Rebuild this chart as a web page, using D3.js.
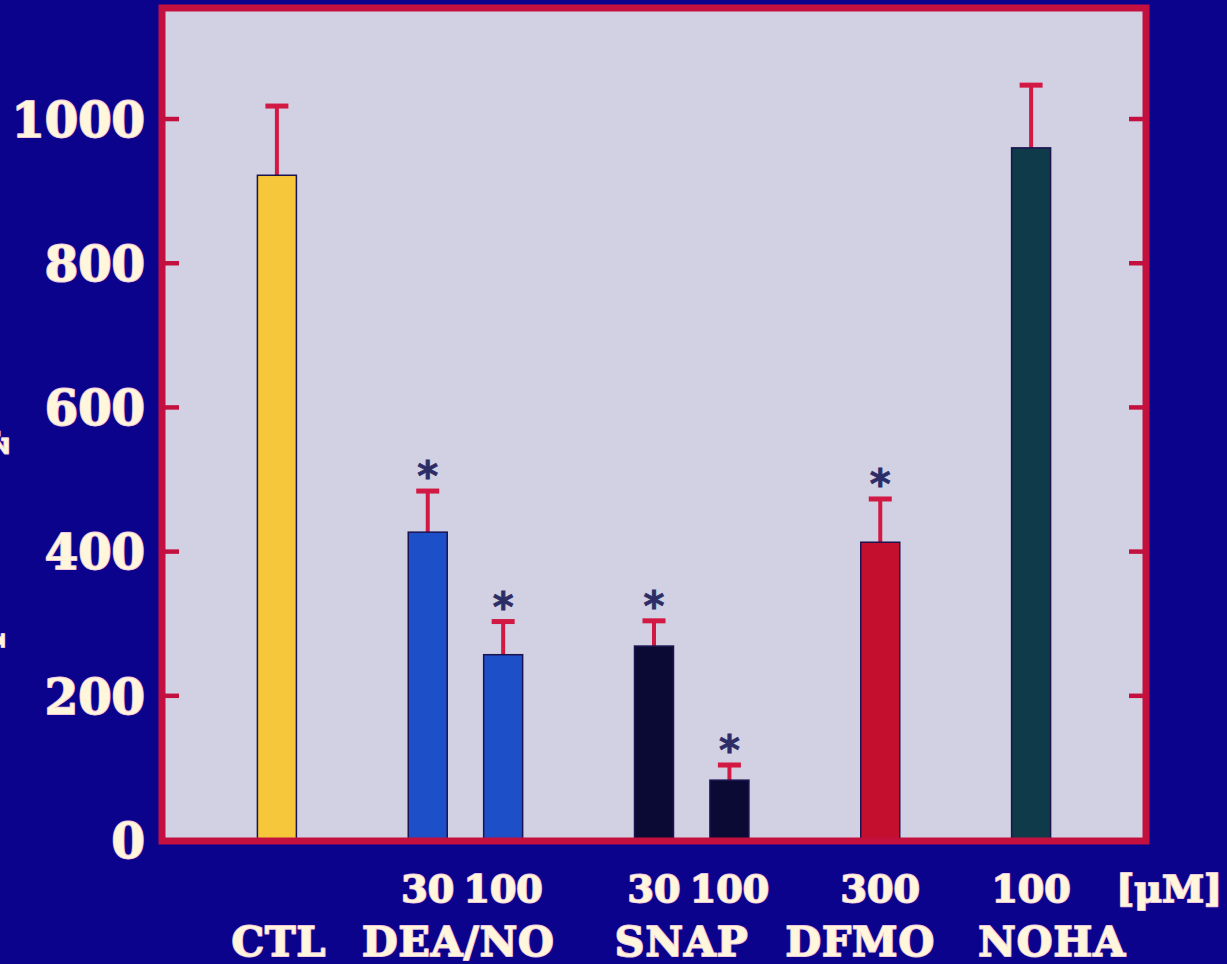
<!DOCTYPE html>
<html>
<head>
<meta charset="utf-8">
<script src="https://cdn.jsdelivr.net/npm/d3@7"></script>
<style>
  html, body { margin: 0; padding: 0; background: #0c038c; }
  svg { display: block; }
</style>
</head>
<body>
<svg id="chart" width="1227" height="964"></svg>
<script>
// Treatment groups, doses (µM) and the measured means with error (SEM)
const groups = ["CTL", "DEA/NO", "SNAP", "DFMO", "NOHA"];
const doses = [[""], ["30", "100"], ["30", "100"], ["300"], ["100"]];
const means = [[922], [427, 257], [269, 83], [413], [960]];
const errors = [[96], [57, 46], [35, 21], [60], [87]];
const significant = [[false], [true, true], [true, true], [true], [false]];
const groupColors = ["#f6c73a", "#1d4fc8", "#0a0a34", "#c4102e", "#0e3a4a"];
const yTicks = [0, 200, 400, 600, 800, 1000];
const unitLabel = "[\u03bcM]";
const yTitleLines = ["ODC activity", "pmol CO", "2", "/h"];

const W = 1227, H = 964;
const frame = { left: 162, right: 1146, top: 8, bottom: 841 };
const baseY = 840;
// Horizontal nudges that keep the long group names apart on the slide
const groupLabelNudge = { "CTL": 2, "DEA/NO": -7, "SNAP": -10, "DFMO": -20, "NOHA": 21 };

const svg = d3.select("#chart");

// One slot per bar, with an empty slot between consecutive groups
const slots = [];
groups.forEach((g, gi) => {
  doses[gi].forEach((d, di) => {
    slots.push({
      key: g + "|" + di, group: g, gi, dose: d,
      value: means[gi][di], err: errors[gi][di], sig: significant[gi][di],
      color: groupColors[gi]
    });
  });
  if (gi < groups.length - 1) slots.push({ key: "gap" + gi, gap: true });
});
const bars = slots.filter(s => !s.gap);

const x = d3.scaleBand()
  .domain(slots.map(s => s.key))
  .range([frame.left, frame.right])
  .paddingInner(0.483)
  .paddingOuter(1.265)
  .align(0.5);

const y = d3.scaleLinear()
  .domain([0, 1154])
  .range([baseY, frame.top]);

const textFill = "#fff6dc";
const labelStyle = sel => sel
  .attr("font-family", "DejaVu Serif")
  .attr("font-weight", "bold")
  .attr("fill", textFill)
  .attr("stroke", "#efc6dc")
  .attr("stroke-width", 2)
  .attr("stroke-linejoin", "round")
  .attr("paint-order", "stroke");

// Plot panel
svg.append("rect")
  .attr("x", frame.left).attr("y", frame.top)
  .attr("width", frame.right - frame.left)
  .attr("height", frame.bottom - frame.top)
  .attr("fill", "#d2d0e3");

// Rotated axis title, running off the left edge of the slide
const title = svg.append("text")
  .attr("transform", `translate(-4, 648) rotate(-90)`)
  .attr("font-size", 40)
  .call(labelStyle);
title.append("tspan")
  .attr("x", 0).attr("dy", -48)
  .text(yTitleLines[0]);
title.append("tspan")
  .attr("x", 0).attr("dy", 48)
  .text(yTitleLines[1]);
title.append("tspan")
  .attr("dy", 12).attr("font-size", 28)
  .text(yTitleLines[2]);
title.append("tspan")
  .attr("dy", -12)
  .text(yTitleLines[3]);

// Error bars (upper whisker only)
const errColor = "#d21944";
const eb = svg.append("g").attr("class", "errorbars");
bars.forEach(b => {
  const cx = x(b.key) + x.bandwidth() / 2;
  eb.append("line")
    .attr("x1", cx).attr("x2", cx)
    .attr("y1", y(b.value)).attr("y2", y(b.value + b.err))
    .attr("stroke", errColor).attr("stroke-width", 4);
  eb.append("line")
    .attr("x1", cx - 11.5).attr("x2", cx + 11.5)
    .attr("y1", y(b.value + b.err)).attr("y2", y(b.value + b.err))
    .attr("stroke", errColor).attr("stroke-width", 5);
});

// Bars
svg.append("g").attr("class", "bars")
  .selectAll("rect")
  .data(bars)
  .join("rect")
  .attr("x", d => x(d.key))
  .attr("y", d => y(d.value))
  .attr("width", x.bandwidth())
  .attr("height", d => y(0) - y(d.value))
  .attr("fill", d => d.color)
  .attr("stroke", "#1c1450")
  .attr("stroke-width", 1.5);

// Significance asterisks
svg.append("g").attr("class", "stars")
  .selectAll("text")
  .data(bars.filter(d => d.sig))
  .join("text")
  .attr("x", d => x(d.key) + x.bandwidth() / 2)
  .attr("y", d => y(d.value + d.err) - 1)
  .attr("text-anchor", "middle")
  .attr("font-family", "DejaVu Sans")
  .attr("font-weight", "bold")
  .attr("font-size", 40)
  .attr("fill", "#2c2c66")
  .attr("stroke", "#2c2c66")
  .attr("stroke-width", 0.8)
  .text("*");

// Frame
svg.append("rect")
  .attr("x", frame.left).attr("y", frame.top)
  .attr("width", frame.right - frame.left)
  .attr("height", frame.bottom - frame.top)
  .attr("fill", "none")
  .attr("stroke", "#c3103e")
  .attr("stroke-width", 7);

// Inner tick marks on both vertical edges
const tickG = svg.append("g").attr("class", "ticks");
yTicks.filter(t => t > 0).forEach(t => {
  [[frame.left, frame.left + 17], [frame.right - 17, frame.right]].forEach(([a, b]) => {
    tickG.append("line")
      .attr("x1", a).attr("x2", b)
      .attr("y1", y(t)).attr("y2", y(t))
      .attr("stroke", "#c3103e").attr("stroke-width", 4.5);
  });
});

// Tick labels via a left axis
const yAxis = d3.axisLeft(y).tickValues(yTicks).tickSize(0).tickPadding(0).tickFormat(d3.format("d"));
const ax = svg.append("g").attr("transform", "translate(145,0)").call(yAxis);
ax.select(".domain").remove();
ax.attr("font-family", null).attr("font-size", null);
ax.selectAll("text")
  .attr("font-size", 48)
  .attr("dy", "0.36em")
  .call(labelStyle);

// Dose labels under each bar
svg.append("g").selectAll("text")
  .data(bars.filter(d => d.dose))
  .join("text")
  .attr("x", d => x(d.key) + x.bandwidth() / 2)
  .attr("y", 902)
  .attr("text-anchor", "middle")
  .attr("font-size", 38)
  .call(labelStyle)
  .text(d => d.dose);

svg.append("text")
  .attr("x", 1222).attr("y", 902)
  .attr("text-anchor", "end")
  .attr("font-size", 38)
  .call(labelStyle)
  .text(unitLabel);

// Group names under each group
const groupCenters = groups.map((g, gi) => {
  const gb = bars.filter(b => b.gi === gi);
  return d3.mean(gb, b => x(b.key) + x.bandwidth() / 2) + (groupLabelNudge[g] || 0);
});
svg.append("g").selectAll("text")
  .data(groups)
  .join("text")
  .attr("x", (d, i) => groupCenters[i])
  .attr("y", 956)
  .attr("text-anchor", "middle")
  .attr("font-size", 41)
  .attr("letter-spacing", 1)
  .call(labelStyle)
  .text(d => d);
</script>
</body>
</html>
